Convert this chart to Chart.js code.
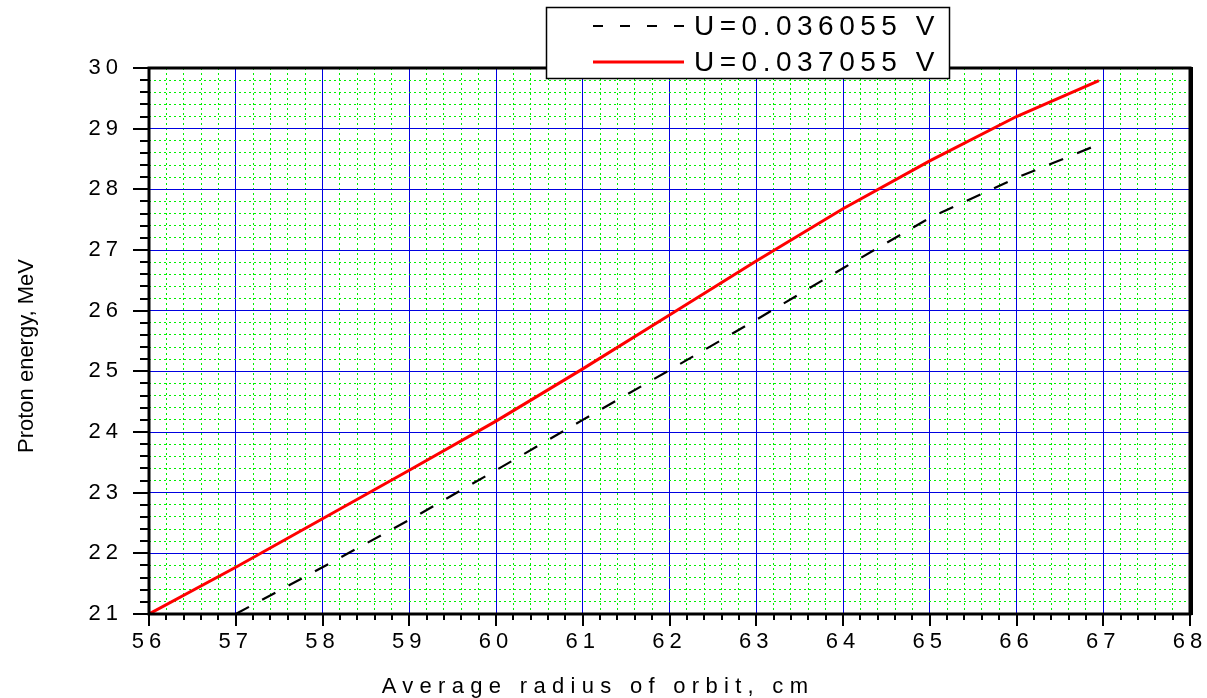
<!DOCTYPE html>
<html>
<head>
<meta charset="utf-8">
<script src="https://cdn.jsdelivr.net/npm/chart.js@4.4.1/dist/chart.umd.min.js"></script>
<style>
html, body { margin: 0; padding: 0; background: #fff; }
#wrap { width: 1207px; height: 698px; position: relative; }
</style>
</head>
<body>
<div id="wrap"><canvas id="chart"></canvas></div>
<script>
// values
const blackRadius = [57, 58, 59, 60, 61, 62, 63, 64, 65, 66, 67]
const blackEnergy = [21.0, 21.77, 22.55, 23.37, 24.2, 25.02, 25.85, 26.7, 27.53, 28.19, 28.77]
const redRadius = [56, 57, 58, 59, 60, 61, 62, 63, 64, 65, 66, 66.95]
const redEnergy = [21.0, 21.77, 22.57, 23.37, 24.18, 25.04, 25.93, 26.82, 27.68, 28.47, 29.2, 29.79]
const seriesLabels = ['U=0.036055 V', 'U=0.037055 V']
const xTitle = 'Average radius of orbit, cm'
const yTitle = 'Proton energy, MeV'

const FONT = '"Liberation Sans", Arial, sans-serif'
const isMajor = (v) => Math.abs(v - Math.round(v)) < 1e-6

function pairs(xs, ys) {
	return xs.map((x, i) => ({ x: x, y: ys[i] }))
}

function gridOpts() {
	return {
		drawTicks: false,
		lineWidth: 1,
		color: (c) => (c.tick && isMajor(c.tick.value) ? '#0000e0' : '#00f000'),
	}
}
function borderOpts() {
	return {
		display: false,
		dash: (c) => (c.tick && !isMajor(c.tick.value) ? [2, 3] : []),
	}
}

// frame, minor/major tick marks, titles and legend box
const decor = {
	id: 'decor',
	beforeDraw(chart) {
		chart.ctx.letterSpacing = '5px'
	},
	afterDraw(chart) {
		const ctx = chart.ctx
		const a = chart.chartArea
		const xs = chart.scales.x
		const ys = chart.scales.y
		ctx.save()
		ctx.letterSpacing = '0px'
		ctx.strokeStyle = '#000'

		// tick marks
		ctx.lineWidth = 2
		ctx.beginPath()
		xs.ticks.forEach((t) => {
			const px = Math.round(xs.getPixelForValue(t.value))
			ctx.moveTo(px, a.bottom)
			ctx.lineTo(px, a.bottom + (isMajor(t.value) ? 12 : 6))
		})
		ys.ticks.forEach((t) => {
			const py = Math.round(ys.getPixelForValue(t.value))
			ctx.moveTo(a.left, py)
			ctx.lineTo(a.left - (isMajor(t.value) ? 16 : 9), py)
		})
		ctx.stroke()

		// frame
		ctx.lineWidth = 3
		ctx.strokeRect(a.left, a.top, a.right - a.left, a.bottom - a.top)
		ctx.lineWidth = 4
		ctx.beginPath()
		ctx.moveTo(a.right + 1, a.top - 1)
		ctx.lineTo(a.right + 1, a.bottom + 1)
		ctx.stroke()

		// axis titles
		ctx.fillStyle = '#000'
		ctx.font = '22px ' + FONT
		ctx.textAlign = 'left'
		ctx.textBaseline = 'alphabetic'
		ctx.letterSpacing = '6.3px'
		const w = ctx.measureText(xTitle).width
		ctx.fillText(xTitle, 598 - w / 2, 693)

		ctx.letterSpacing = '0px'
		ctx.save()
		ctx.translate(33, 356)
		ctx.rotate(-Math.PI / 2)
		ctx.textAlign = 'center'
		ctx.fillText(yTitle, 0, 0)
		ctx.restore()

		// legend
		ctx.fillStyle = '#fff'
		ctx.fillRect(546, 7, 403, 72)
		ctx.lineWidth = 1.5
		ctx.strokeStyle = '#000'
		ctx.strokeRect(546.5, 7.5, 403, 71)

		ctx.lineWidth = 2
		ctx.setLineDash([10, 17])
		ctx.beginPath()
		ctx.moveTo(593, 26)
		ctx.lineTo(684, 26)
		ctx.stroke()
		ctx.setLineDash([])
		ctx.strokeStyle = '#ff0000'
		ctx.lineWidth = 3
		ctx.beginPath()
		ctx.moveTo(593, 62)
		ctx.lineTo(684, 62)
		ctx.stroke()

		ctx.fillStyle = '#000'
		ctx.font = '28px ' + FONT
		ctx.letterSpacing = '5.5px'
		ctx.textAlign = 'left'
		ctx.fillText(seriesLabels[0], 694, 35)
		ctx.fillText(seriesLabels[1], 694, 71)
		ctx.restore()
	},
}

const config = {
	type: 'line',
	data: {
		datasets: [
			{
				label: seriesLabels[0],
				data: pairs(blackRadius, blackEnergy),
				borderColor: '#000',
				borderWidth: 2.2,
				borderDash: [15, 15],
				pointRadius: 0,
				tension: 0,
				fill: false,
			},
			{
				label: seriesLabels[1],
				data: pairs(redRadius, redEnergy),
				borderColor: '#ff0000',
				borderWidth: 3,
				pointRadius: 0,
				tension: 0,
				fill: false,
			},
		],
	},
	options: {
		responsive: true,
		maintainAspectRatio: false,
		animation: false,
		layout: {
			padding: { top: 68, right: 17, left: 0, bottom: 0 },
		},
		plugins: {
			legend: { display: false },
			tooltip: { enabled: false },
		},
		scales: {
			x: {
				type: 'linear',
				position: 'bottom',
				min: 56,
				max: 68,
				afterFit: (s) => {
					s.height = 84
					s.paddingLeft = 0
					s.paddingRight = 0
				},
				ticks: {
					stepSize: 0.2,
					autoSkip: false,
					maxRotation: 0,
					maxTicksLimit: 1000,
					padding: 15,
					color: '#000',
					font: { family: FONT, size: 22 },
					callback: (v) => (isMajor(v) ? String(Math.round(v)) : ''),
				},
				grid: gridOpts(),
				border: borderOpts(),
			},
			y: {
				type: 'linear',
				min: 21,
				max: 30,
				afterFit: (s) => {
					s.width = 149
					s.paddingTop = 0
					s.paddingBottom = 0
				},
				ticks: {
					stepSize: 0.2,
					autoSkip: false,
					maxTicksLimit: 1000,
					padding: 26,
					color: '#000',
					font: { family: FONT, size: 22 },
					callback: (v) => (isMajor(v) ? String(Math.round(v)) : ''),
				},
				grid: gridOpts(),
				border: borderOpts(),
			},
		},
	},
	plugins: [decor],
}

new Chart(document.getElementById('chart'), config)
</script>
</body>
</html>
